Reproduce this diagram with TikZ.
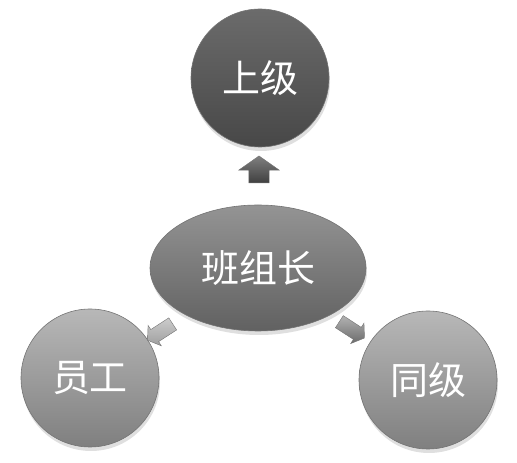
\documentclass[tikz,border=0pt]{standalone}
\usepackage{fontspec}
\newfontfamily\cjk{Noto Sans CJK SC}
\usepackage{tikz}
\usetikzlibrary{shapes.arrows,shapes.geometric,shadows,calc}

\tikzset{
  role/.style={circle, minimum size=138pt, inner sep=0pt, draw=black!55, line width=0.6pt,
    text=white, font=\cjk\fontsize{38}{38}\selectfont,
    drop shadow={opacity=0.25, shadow xshift=1pt, shadow yshift=-4pt}},
  darkrole/.style={role, top color=black!58, bottom color=black!72},
  lightrole/.style={role, top color=black!28, bottom color=black!50},
  blockarrow/.style={single arrow, minimum height=27pt, inner xsep=0pt, inner ysep=10pt,
    single arrow head extend=10pt, single arrow tip angle=110, draw=black!55, line width=0.4pt},
  sidearrow/.style={blockarrow, minimum height=30pt, inner ysep=7pt, single arrow head extend=5pt}
}

\begin{document}
\begin{tikzpicture}[x=1pt,y=1pt]
\useasboundingbox (0,0) rectangle (517,463);

%draw the three circles and the ellipse
\node[darkrole] (boss) at (260,385) {上级};
\node[role, ellipse, minimum width=216pt, minimum height=126pt, top color=black!42, bottom color=black!62] (leader) at (258,195) {班组长};
\node[lightrole] (staff) at (90,85) {员工};
\node[lightrole] (peer) at (428,83) {同级};

%draw block arrows between them
\node[blockarrow, rotate=90, top color=black!50, bottom color=black!75] (up) at ($(boss)!0.5!(leader)$) {};
\node[sidearrow, rotate=213, top color=black!20, bottom color=black!38] (left) at ($(leader)!0.57!(staff)$) {};
\node[sidearrow, rotate=-33, top color=black!30, bottom color=black!58] (right) at ($(leader)!0.54!(peer)$) {};
\end{tikzpicture}
\end{document}
